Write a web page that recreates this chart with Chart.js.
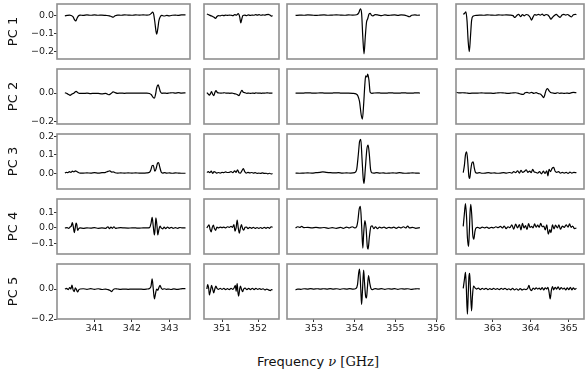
<!DOCTYPE html>
<html>
<head>
<meta charset="utf-8">
<script src="https://cdn.jsdelivr.net/npm/chart.js@4.4.1/dist/chart.umd.min.js"></script>
<style>
  html, body { margin: 0; padding: 0; background: #fff; overflow: hidden; }
  #wrap { position: relative; width: 585px; height: 373px; }
  canvas { position: absolute; }
  #xlabel { position: absolute; left: 168px; width: 300px; top: 354px; text-align: center;
            font: 13px "DejaVu Sans"; color: #111; white-space: nowrap; }
  #xlabel .m { font-family: "DejaVu Serif"; }
</style>
</head>
<body>
<div id="wrap"><div id="xlabel">Frequency <span class="m"><i>ν</i> [GHz]</span></div></div>
<script>
// frequency windows (GHz) and their ticks
const xLimits = [[340.0, 343.55], [350.5, 352.58], [352.34, 356.02], [362.03, 365.4]];
const xTicks = [[341, 342, 343], [351, 352], [353, 354, 355, 356], [363, 364, 365]];

// one row per principal component
const rowLabels = ['PC 1', 'PC 2', 'PC 3', 'PC 4', 'PC 5'];
const yLimits = [[-0.238, 0.06], [-0.214, 0.166], [-0.086, 0.211], [-0.168, 0.187], [-0.2, 0.167]];
const yTicks = [[0, -0.1, -0.2], [0, -0.2], [0, 0.1, 0.2], [-0.1, 0, 0.1], [0, -0.2]];

// [frequency, amplitude]
const pc1_a = [[340.21,-0.004],[340.27,-0.002],[340.33,0.0],[340.38,-0.002],[340.43,-0.01],[340.47,-0.026],[340.5,-0.032],[340.53,-0.02],[340.57,-0.005],[340.62,0.0],[340.7,-0.002],[340.8,0.001],[340.9,-0.001],[341.0,0.001],[341.1,-0.001],[341.2,0.0],[341.3,-0.002],[341.4,-0.004],[341.46,-0.009],[341.5,-0.011],[341.55,-0.004],[341.62,0.0],[341.7,-0.001],[341.8,0.001],[341.9,0.0],[342.0,-0.001],[342.1,0.001],[342.2,0.0],[342.3,0.001],[342.4,0.0],[342.47,0.002],[342.52,0.01],[342.55,0.016],[342.58,0.005],[342.61,-0.035],[342.64,-0.085],[342.66,-0.104],[342.69,-0.075],[342.72,-0.03],[342.76,-0.008],[342.8,-0.002],[342.86,-0.005],[342.93,-0.002],[343.0,-0.004],[343.08,-0.001],[343.16,0.0],[343.24,-0.002],[343.32,0.001],[343.43,0.001]];
const pc1_b = [[350.58,0.006],[350.63,0.002],[350.68,-0.003],[350.73,-0.006],[350.78,-0.012],[350.82,-0.018],[350.86,-0.008],[350.9,-0.003],[350.95,-0.004],[351.0,-0.001],[351.05,-0.003],[351.1,0.0],[351.15,-0.002],[351.2,0.0],[351.25,-0.001],[351.3,-0.003],[351.35,0.002],[351.4,0.0],[351.45,0.008],[351.49,-0.01],[351.52,-0.042],[351.55,-0.02],[351.58,-0.002],[351.63,0.0],[351.68,-0.003],[351.73,0.001],[351.78,-0.002],[351.83,0.0],[351.88,-0.001],[351.93,0.002],[351.98,0.0],[352.03,0.002],[352.08,-0.001],[352.13,0.001],[352.18,0.0],[352.23,0.002],[352.28,0.004],[352.33,0.0],[352.37,-0.006],[352.4,-0.002]];
const pc1_c = [[352.55,-0.002],[352.65,0.0],[352.75,-0.001],[352.85,0.001],[352.95,0.0],[353.05,-0.002],[353.15,0.0],[353.25,0.001],[353.35,-0.001],[353.45,0.0],[353.55,0.001],[353.65,0.0],[353.75,-0.001],[353.85,0.001],[353.95,0.0],[354.05,0.002],[354.1,0.012],[354.14,0.034],[354.17,0.01],[354.2,-0.12],[354.23,-0.21],[354.26,-0.12],[354.29,-0.04],[354.32,-0.02],[354.35,0.004],[354.38,0.01],[354.41,0.0],[354.45,-0.004],[354.5,0.002],[354.58,0.0],[354.66,-0.003],[354.74,0.001],[354.82,-0.002],[354.9,0.0],[354.98,0.001],[355.06,-0.002],[355.14,0.001],[355.22,0.0],[355.3,-0.006],[355.34,-0.009],[355.4,-0.001],[355.48,0.001],[355.55,-0.001],[355.6,0.0]];
const pc1_d = [[362.22,0.004],[362.26,0.01],[362.29,0.018],[362.32,-0.03],[362.35,-0.14],[362.38,-0.198],[362.41,-0.12],[362.44,-0.03],[362.48,-0.006],[362.55,-0.002],[362.65,0.0],[362.75,-0.001],[362.85,0.001],[362.95,0.0],[363.05,-0.001],[363.15,0.001],[363.25,0.0],[363.35,0.001],[363.45,0.0],[363.53,-0.003],[363.58,-0.013],[363.63,-0.002],[363.68,0.004],[363.73,-0.008],[363.78,0.002],[363.83,-0.004],[363.88,0.003],[363.93,0.0],[363.98,-0.012],[364.02,-0.027],[364.06,-0.01],[364.1,0.002],[364.15,0.0],[364.2,0.004],[364.25,0.0],[364.3,0.005],[364.35,-0.003],[364.4,0.003],[364.45,0.0],[364.49,-0.01],[364.53,-0.022],[364.57,-0.012],[364.62,-0.002],[364.67,0.004],[364.72,-0.005],[364.77,-0.012],[364.82,0.0],[364.87,0.004],[364.92,0.0],[364.97,0.003],[365.02,-0.004],[365.07,-0.01],[365.12,0.002],[365.17,0.004],[365.2,0.002]];

const pc2_a = [[340.21,0.002],[340.27,-0.004],[340.31,-0.01],[340.35,-0.016],[340.39,-0.008],[340.43,-0.004],[340.47,0.004],[340.51,0.011],[340.55,0.004],[340.6,-0.002],[340.7,-0.003],[340.8,-0.001],[340.9,-0.004],[341.0,-0.002],[341.1,-0.003],[341.2,-0.006],[341.3,-0.003],[341.38,-0.012],[341.44,-0.004],[341.5,0.008],[341.55,0.003],[341.62,-0.002],[341.7,0.0],[341.8,-0.002],[341.9,0.0],[342.0,-0.001],[342.1,0.0],[342.2,-0.001],[342.3,0.0],[342.4,0.0],[342.47,-0.003],[342.52,-0.012],[342.56,-0.028],[342.6,-0.036],[342.63,-0.01],[342.66,0.035],[342.7,0.056],[342.73,0.035],[342.76,0.008],[342.8,-0.002],[342.86,0.0],[342.93,-0.002],[343.0,0.0],[343.08,0.002],[343.16,-0.001],[343.24,0.003],[343.32,0.0],[343.43,0.001]];
const pc2_b = [[350.58,0.003],[350.62,-0.008],[350.65,-0.014],[350.68,-0.004],[350.71,0.009],[350.74,-0.008],[350.77,-0.018],[350.8,0.002],[350.83,0.016],[350.87,0.004],[350.92,0.0],[350.97,-0.001],[351.02,0.0],[351.07,0.002],[351.12,-0.001],[351.17,0.0],[351.22,-0.002],[351.27,0.0],[351.32,-0.003],[351.37,-0.006],[351.42,-0.01],[351.47,-0.018],[351.51,0.002],[351.55,0.018],[351.59,0.006],[351.64,0.002],[351.69,-0.002],[351.74,0.0],[351.79,-0.003],[351.84,0.0],[351.89,-0.002],[351.94,0.001],[351.99,-0.001],[352.04,0.0],[352.09,-0.002],[352.14,0.0],[352.19,-0.001],[352.24,0.001],[352.29,0.0],[352.34,-0.001],[352.4,0.0]];
const pc2_c = [[352.55,0.0],[352.65,-0.001],[352.75,0.0],[352.85,0.001],[352.95,0.0],[353.05,-0.001],[353.15,0.001],[353.25,0.0],[353.35,-0.001],[353.45,0.0],[353.55,0.001],[353.65,0.0],[353.75,-0.001],[353.85,0.0],[353.95,-0.002],[354.03,-0.006],[354.08,-0.02],[354.12,-0.06],[354.16,-0.15],[354.19,-0.18],[354.22,-0.08],[354.25,0.06],[354.27,0.118],[354.3,0.11],[354.32,0.131],[354.35,0.09],[354.38,0.005],[354.42,-0.002],[354.48,0.0],[354.56,0.001],[354.64,0.0],[354.72,-0.001],[354.8,0.0],[354.88,0.001],[354.96,0.0],[355.04,-0.001],[355.12,0.0],[355.2,0.001],[355.28,0.0],[355.36,-0.001],[355.44,0.0],[355.52,0.001],[355.6,0.0]];
const pc2_d = [[362.03,0.005],[362.1,0.001],[362.2,0.002],[362.3,0.0],[362.4,-0.002],[362.5,0.0],[362.6,-0.001],[362.7,0.001],[362.8,-0.001],[362.9,0.0],[363.0,-0.002],[363.1,0.0],[363.2,0.002],[363.3,0.0],[363.4,-0.002],[363.5,0.0],[363.6,0.002],[363.68,-0.002],[363.74,-0.008],[363.8,-0.01],[363.85,0.002],[363.9,0.004],[363.96,0.0],[364.02,0.004],[364.08,-0.002],[364.14,0.003],[364.2,-0.004],[364.26,-0.008],[364.3,-0.02],[364.34,-0.032],[364.37,-0.01],[364.4,0.018],[364.44,0.03],[364.48,0.015],[364.52,0.004],[364.58,0.0],[364.64,-0.003],[364.7,0.002],[364.76,-0.002],[364.82,0.0],[364.88,-0.003],[364.94,0.0],[365.0,-0.002],[365.06,0.001],[365.12,0.004],[365.2,0.002]];

const pc3_a = [[340.21,0.0],[340.25,0.004],[340.29,0.002],[340.33,0.008],[340.37,0.004],[340.41,0.01],[340.45,0.006],[340.49,0.012],[340.53,0.008],[340.57,0.003],[340.62,0.0],[340.7,0.0],[340.8,0.001],[340.9,0.0],[341.0,0.002],[341.1,0.0],[341.2,0.002],[341.3,0.004],[341.36,0.009],[341.41,0.012],[341.46,0.005],[341.5,0.007],[341.55,0.002],[341.62,0.0],[341.7,0.001],[341.8,0.0],[341.9,0.001],[342.0,0.0],[342.1,0.001],[342.2,0.0],[342.3,0.0],[342.4,0.001],[342.47,0.004],[342.51,0.02],[342.54,0.04],[342.57,0.042],[342.61,0.01],[342.64,0.02],[342.68,0.052],[342.71,0.057],[342.74,0.035],[342.78,0.006],[342.82,0.0],[342.87,0.002],[342.93,0.0],[343.0,0.001],[343.08,-0.001],[343.16,0.001],[343.24,0.0],[343.32,-0.001],[343.43,-0.001]];
const pc3_b = [[350.58,0.003],[350.62,0.008],[350.66,0.002],[350.7,0.01],[350.74,-0.002],[350.78,0.008],[350.82,0.004],[350.86,0.0],[350.9,0.003],[350.95,0.0],[351.0,0.004],[351.05,0.002],[351.1,0.006],[351.15,0.003],[351.2,0.004],[351.25,0.008],[351.3,0.002],[351.35,0.012],[351.39,0.004],[351.43,0.018],[351.47,0.002],[351.51,0.0],[351.55,0.012],[351.59,0.024],[351.63,0.008],[351.67,0.0],[351.72,0.004],[351.77,0.001],[351.82,0.003],[351.87,0.0],[351.92,0.002],[351.97,-0.002],[352.02,0.0],[352.07,-0.002],[352.12,0.001],[352.17,-0.002],[352.22,-0.001],[352.27,-0.004],[352.32,-0.001],[352.36,-0.005],[352.4,-0.002]];
const pc3_c = [[352.55,0.0],[352.65,-0.001],[352.75,0.0],[352.85,0.001],[352.95,0.0],[353.05,0.002],[353.15,0.004],[353.22,0.006],[353.3,0.004],[353.4,0.002],[353.5,0.001],[353.6,0.002],[353.7,0.0],[353.8,0.001],[353.9,0.0],[354.0,0.002],[354.05,0.02],[354.09,0.1],[354.12,0.17],[354.15,0.182],[354.18,0.08],[354.21,-0.03],[354.23,-0.056],[354.26,0.02],[354.3,0.13],[354.33,0.151],[354.36,0.1],[354.39,0.02],[354.42,0.002],[354.47,0.0],[354.54,0.002],[354.62,0.0],[354.7,0.001],[354.78,-0.001],[354.86,0.0],[354.94,0.001],[355.02,0.0],[355.1,0.002],[355.18,0.0],[355.26,-0.001],[355.34,0.0],[355.42,0.001],[355.5,0.0],[355.6,-0.001]];
const pc3_d = [[362.22,0.002],[362.25,0.04],[362.28,0.1],[362.31,0.115],[362.34,0.06],[362.37,-0.02],[362.39,-0.029],[362.42,0.02],[362.45,0.055],[362.48,0.061],[362.51,0.03],[362.54,0.005],[362.58,0.0],[362.65,0.002],[362.72,-0.001],[362.8,0.0],[362.88,0.002],[362.96,0.0],[363.04,0.001],[363.12,-0.001],[363.2,0.0],[363.28,0.002],[363.36,0.0],[363.44,0.003],[363.5,0.0],[363.55,0.008],[363.6,0.002],[363.65,0.012],[363.7,0.0],[363.74,0.015],[363.78,0.004],[363.83,0.008],[363.88,0.018],[363.92,0.004],[363.97,0.01],[364.01,0.002],[364.05,0.02],[364.09,0.006],[364.13,0.004],[364.18,0.0],[364.23,0.008],[364.28,-0.004],[364.33,0.01],[364.37,-0.002],[364.42,0.012],[364.45,-0.015],[364.48,0.02],[364.52,0.008],[364.56,0.025],[364.6,0.031],[364.64,0.01],[364.68,0.004],[364.73,0.008],[364.78,0.0],[364.83,0.004],[364.88,0.0],[364.93,0.004],[364.98,-0.002],[365.03,0.005],[365.08,0.0],[365.13,0.004],[365.2,0.002]];

const pc4_a = [[340.21,0.0],[340.27,0.002],[340.31,-0.002],[340.35,0.006],[340.38,0.012],[340.41,0.034],[340.44,0.0],[340.46,-0.03],[340.48,-0.01],[340.51,0.032],[340.53,0.02],[340.55,-0.016],[340.58,-0.004],[340.62,0.0],[340.7,-0.002],[340.8,0.001],[340.9,-0.001],[341.0,0.002],[341.1,-0.002],[341.2,0.0],[341.3,-0.002],[341.36,0.008],[341.4,-0.004],[341.44,0.006],[341.48,-0.002],[341.52,0.008],[341.56,-0.002],[341.62,0.0],[341.7,0.002],[341.8,0.0],[341.9,-0.001],[342.0,0.001],[342.1,0.0],[342.2,-0.001],[342.3,0.001],[342.4,0.0],[342.47,0.002],[342.51,0.03],[342.54,0.068],[342.57,0.01],[342.6,-0.045],[342.62,0.0],[342.64,0.066],[342.67,0.01],[342.69,-0.045],[342.72,-0.01],[342.75,0.012],[342.78,0.0],[342.82,-0.006],[342.86,0.006],[342.9,-0.004],[342.95,0.005],[343.0,-0.002],[343.05,0.004],[343.1,-0.002],[343.16,0.002],[343.22,-0.002],[343.28,0.003],[343.35,0.0],[343.43,0.001]];
const pc4_b = [[350.58,0.0],[350.61,0.012],[350.64,0.02],[350.67,-0.01],[350.7,-0.025],[350.73,0.004],[350.76,0.018],[350.79,-0.004],[350.82,-0.015],[350.86,0.005],[350.9,0.0],[350.95,0.006],[351.0,0.002],[351.05,0.006],[351.1,0.0],[351.15,0.008],[351.2,0.004],[351.25,0.01],[351.29,0.004],[351.33,0.022],[351.36,-0.02],[351.39,0.0],[351.42,0.051],[351.45,0.0],[351.48,-0.034],[351.51,0.0],[351.54,0.021],[351.57,-0.004],[351.6,-0.014],[351.64,0.004],[351.68,0.006],[351.72,-0.004],[351.77,0.004],[351.82,-0.002],[351.87,0.004],[351.92,-0.003],[351.97,0.003],[352.02,-0.002],[352.07,0.003],[352.12,-0.003],[352.17,0.004],[352.22,-0.002],[352.27,0.004],[352.32,-0.002],[352.36,0.008],[352.4,0.004]];
const pc4_c = [[352.55,0.0],[352.6,0.008],[352.65,0.004],[352.7,0.01],[352.75,0.002],[352.85,0.004],[352.95,0.0],[353.05,0.004],[353.15,0.0],[353.25,0.003],[353.35,-0.002],[353.45,0.002],[353.55,-0.002],[353.65,0.004],[353.72,-0.002],[353.8,0.006],[353.87,0.0],[353.94,0.008],[354.0,0.0],[354.05,0.01],[354.08,0.05],[354.11,0.12],[354.14,0.14],[354.17,0.02],[354.2,-0.13],[354.22,-0.04],[354.25,0.047],[354.28,0.0],[354.31,-0.12],[354.33,-0.136],[354.36,-0.06],[354.4,0.01],[354.43,0.013],[354.47,-0.005],[354.51,0.008],[354.56,-0.004],[354.61,0.006],[354.66,0.0],[354.72,0.006],[354.78,-0.002],[354.84,0.004],[354.9,0.0],[354.96,0.005],[355.02,-0.002],[355.08,0.006],[355.14,0.0],[355.2,0.008],[355.25,0.0],[355.3,0.012],[355.35,0.0],[355.42,0.004],[355.5,-0.002],[355.6,0.002]];
const pc4_d = [[362.22,0.01],[362.25,0.09],[362.28,0.157],[362.31,0.06],[362.33,-0.06],[362.36,-0.119],[362.38,-0.03],[362.4,0.1],[362.42,0.153],[362.45,0.06],[362.47,-0.04],[362.5,-0.072],[362.53,-0.02],[362.56,0.0],[362.6,0.004],[362.66,-0.002],[362.72,0.005],[362.78,0.0],[362.84,0.006],[362.9,-0.002],[362.96,0.004],[363.02,0.0],[363.08,0.008],[363.14,0.002],[363.2,0.01],[363.25,0.0],[363.3,0.012],[363.35,-0.004],[363.4,0.008],[363.45,0.002],[363.5,0.02],[363.55,-0.008],[363.6,0.025],[363.65,0.0],[363.7,0.022],[363.74,-0.012],[363.78,0.03],[363.82,0.0],[363.86,0.015],[363.9,-0.01],[363.94,0.028],[363.98,0.004],[364.02,0.01],[364.06,0.0],[364.1,0.026],[364.14,0.005],[364.18,0.018],[364.22,0.004],[364.26,0.03],[364.3,0.008],[364.34,0.012],[364.38,-0.012],[364.42,0.02],[364.46,-0.04],[364.5,-0.01],[364.53,-0.03],[364.57,0.02],[364.61,-0.006],[364.65,0.018],[364.7,0.0],[364.74,0.02],[364.78,-0.008],[364.83,0.012],[364.88,0.004],[364.93,0.02],[364.98,0.006],[365.02,0.026],[365.06,0.004],[365.1,0.012],[365.15,-0.004],[365.2,0.0]];

const pc5_a = [[340.21,0.0],[340.26,0.004],[340.3,-0.004],[340.34,0.01],[340.37,0.0],[340.4,0.026],[340.43,-0.006],[340.46,-0.017],[340.49,0.008],[340.52,-0.004],[340.55,-0.02],[340.58,-0.006],[340.62,0.0],[340.7,0.002],[340.8,-0.002],[340.9,0.003],[341.0,-0.002],[341.1,0.002],[341.2,-0.003],[341.3,0.0],[341.36,-0.004],[341.42,-0.01],[341.46,-0.017],[341.5,-0.004],[341.55,0.002],[341.62,0.0],[341.7,-0.002],[341.8,0.0],[341.9,-0.002],[342.0,0.0],[342.1,-0.001],[342.2,0.0],[342.3,-0.002],[342.4,0.0],[342.47,0.004],[342.51,0.02],[342.54,0.068],[342.57,0.0],[342.6,-0.066],[342.63,-0.03],[342.66,0.0],[342.69,-0.008],[342.72,0.01],[342.75,0.024],[342.78,0.008],[342.82,-0.002],[342.86,0.002],[342.92,-0.002],[342.98,0.0],[343.05,-0.003],[343.12,0.001],[343.2,-0.002],[343.28,0.0],[343.35,0.003],[343.43,0.002]];
const pc5_b = [[350.58,0.0],[350.6,0.03],[350.63,0.005],[350.65,-0.04],[350.68,-0.01],[350.71,0.024],[350.74,0.0],[350.77,-0.026],[350.8,0.0],[350.83,0.02],[350.86,0.004],[350.9,-0.002],[350.95,0.004],[351.0,-0.002],[351.05,0.004],[351.1,-0.004],[351.15,0.003],[351.2,-0.004],[351.25,0.004],[351.3,-0.002],[351.34,0.01],[351.37,0.025],[351.39,-0.015],[351.42,0.036],[351.44,-0.02],[351.46,-0.047],[351.49,0.0],[351.51,0.02],[351.54,-0.002],[351.57,-0.018],[351.6,0.0],[351.64,0.006],[351.69,-0.004],[351.74,0.004],[351.79,-0.004],[351.84,0.005],[351.89,-0.004],[351.94,0.004],[351.99,-0.002],[352.04,0.003],[352.09,-0.003],[352.14,0.002],[352.19,-0.006],[352.24,0.0],[352.29,-0.006],[352.34,-0.01],[352.37,-0.004],[352.4,-0.006]];
const pc5_c = [[352.55,-0.006],[352.6,0.0],[352.68,-0.002],[352.76,0.002],[352.84,0.0],[352.92,0.003],[353.0,0.0],[353.08,0.002],[353.16,-0.001],[353.24,0.002],[353.32,0.0],[353.4,0.003],[353.48,0.0],[353.56,0.002],[353.64,-0.002],[353.72,0.002],[353.8,0.0],[353.88,0.003],[353.96,0.0],[354.03,0.004],[354.07,0.03],[354.1,0.11],[354.12,0.133],[354.15,0.0],[354.17,-0.103],[354.19,-0.02],[354.22,0.127],[354.24,0.05],[354.27,-0.05],[354.29,-0.06],[354.31,0.0],[354.34,0.09],[354.37,0.04],[354.4,0.004],[354.44,-0.004],[354.5,0.003],[354.58,0.0],[354.66,0.003],[354.74,-0.002],[354.82,0.002],[354.9,0.0],[354.98,0.003],[355.06,-0.002],[355.14,0.002],[355.22,0.0],[355.3,0.002],[355.38,-0.002],[355.46,0.0],[355.54,0.002],[355.6,0.0]];
const pc5_d = [[362.22,0.004],[362.25,0.06],[362.28,0.112],[362.3,0.02],[362.33,-0.168],[362.35,-0.05],[362.37,0.08],[362.39,0.105],[362.41,0.0],[362.44,-0.146],[362.46,-0.06],[362.49,0.02],[362.53,0.008],[362.57,0.0],[362.62,0.006],[362.67,-0.004],[362.72,0.004],[362.77,-0.002],[362.82,0.005],[362.87,-0.004],[362.92,0.003],[362.97,-0.003],[363.02,0.004],[363.07,-0.002],[363.12,0.003],[363.17,-0.004],[363.22,0.004],[363.27,-0.002],[363.32,0.005],[363.37,-0.004],[363.42,0.002],[363.47,-0.005],[363.52,0.004],[363.57,-0.006],[363.62,0.002],[363.67,-0.008],[363.72,0.003],[363.77,-0.006],[363.82,0.0],[363.87,-0.004],[363.92,0.006],[363.95,0.024],[363.98,0.0],[364.02,-0.01],[364.06,0.006],[364.1,-0.002],[364.14,0.008],[364.18,0.0],[364.22,0.006],[364.26,-0.004],[364.3,0.01],[364.34,-0.006],[364.38,0.008],[364.42,0.0],[364.45,0.012],[364.48,-0.02],[364.51,-0.066],[364.54,-0.01],[364.57,0.017],[364.6,-0.006],[364.64,0.012],[364.68,0.0],[364.72,0.015],[364.76,-0.004],[364.8,0.01],[364.84,0.0],[364.88,0.006],[364.92,-0.006],[364.96,0.008],[365.0,-0.004],[365.04,0.012],[365.08,-0.006],[365.12,0.008],[365.16,-0.002],[365.2,0.006]];

const panels = [
  [pc1_a, pc1_b, pc1_c, pc1_d],
  [pc2_a, pc2_b, pc2_c, pc2_d],
  [pc3_a, pc3_b, pc3_c, pc3_d],
  [pc4_a, pc4_b, pc4_c, pc4_d],
  [pc5_a, pc5_b, pc5_c, pc5_d]
];

// page layout (pixels)
const colBox = [[57, 190], [204, 279], [287, 437], [456, 584]];
const rowTop = [4, 69, 134, 199, 264];
const boxH = 55;
const PAD = 12;
const XAXIS_H = 30;

const tickFont = { family: 'DejaVu Sans', size: 9.5 };

const frame = {
  id: 'frame',
  afterDatasetsDraw(chart) {
    const { ctx, chartArea: a } = chart;
    ctx.save();
    ctx.strokeStyle = '#8f8f8f';
    ctx.lineWidth = 1.6;
    ctx.strokeRect(a.left, a.top, a.right - a.left, a.bottom - a.top);
    ctx.restore();
  }
};

function fmtY(v) {
  if (Math.abs(v) < 1e-9) return '0.0';
  return v.toFixed(1).replace('-', '\u2212');
}

const wrap = document.getElementById('wrap');

panels.forEach((row, r) => {
  row.forEach((pts, c) => {
    const [bl, br] = colBox[c];
    const bt = rowTop[r];
    const showX = r === 4;
    const showY = c === 0;
    const left = showY ? 0 : bl - PAD;
    const top = bt - PAD;
    const width = br + PAD - left;
    const height = PAD + boxH + (showX ? XAXIS_H : PAD);

    const canvas = document.createElement('canvas');
    canvas.width = width;
    canvas.height = height;
    canvas.style.left = left + 'px';
    canvas.style.top = top + 'px';
    canvas.style.width = width + 'px';
    canvas.style.height = height + 'px';
    wrap.appendChild(canvas);

    new Chart(canvas.getContext('2d'), {
      type: 'line',
      data: {
        datasets: [{
          data: pts.map(p => ({ x: p[0], y: p[1] })),
          borderColor: '#000',
          borderWidth: 1.2,
          pointRadius: 0,
          cubicInterpolationMode: 'monotone',
          fill: false
        }]
      },
      options: {
        responsive: false,
        animation: false,
        events: [],
        layout: { padding: { left: showY ? 0 : PAD, right: PAD, top: PAD, bottom: showX ? 0 : PAD } },
        plugins: { legend: { display: false }, tooltip: { enabled: false } },
        scales: {
          x: {
            type: 'linear',
            min: xLimits[c][0],
            max: xLimits[c][1],
            display: showX,
            afterFit: s => { s.height = showX ? XAXIS_H : 0; },
            afterBuildTicks: s => { s.ticks = xTicks[c].map(v => ({ value: v })); },
            grid: { drawOnChartArea: false, drawTicks: true, tickLength: 3, tickColor: '#333', tickWidth: 1 },
            border: { display: false },
            ticks: { autoSkip: false, maxRotation: 0, padding: 1, color: '#222', font: tickFont,
                     callback: v => String(v) }
          },
          y: {
            type: 'linear',
            min: yLimits[r][0],
            max: yLimits[r][1],
            display: showY,
            afterFit: s => { s.width = showY ? 57 : 0; },
            afterBuildTicks: s => { s.ticks = yTicks[r].map(v => ({ value: v })); },
            grid: { drawOnChartArea: false, drawTicks: true, tickLength: 3, tickColor: '#333', tickWidth: 1 },
            border: { display: false },
            ticks: { padding: 0, color: '#222', font: tickFont, callback: v => fmtY(v) },
            title: { display: true, text: rowLabels[r], color: '#111',
                     font: { family: 'DejaVu Sans', size: 13 }, padding: { top: 6, bottom: 0 } }
          }
        }
      },
      plugins: [frame]
    });
  });
});
</script>
</body>
</html>
